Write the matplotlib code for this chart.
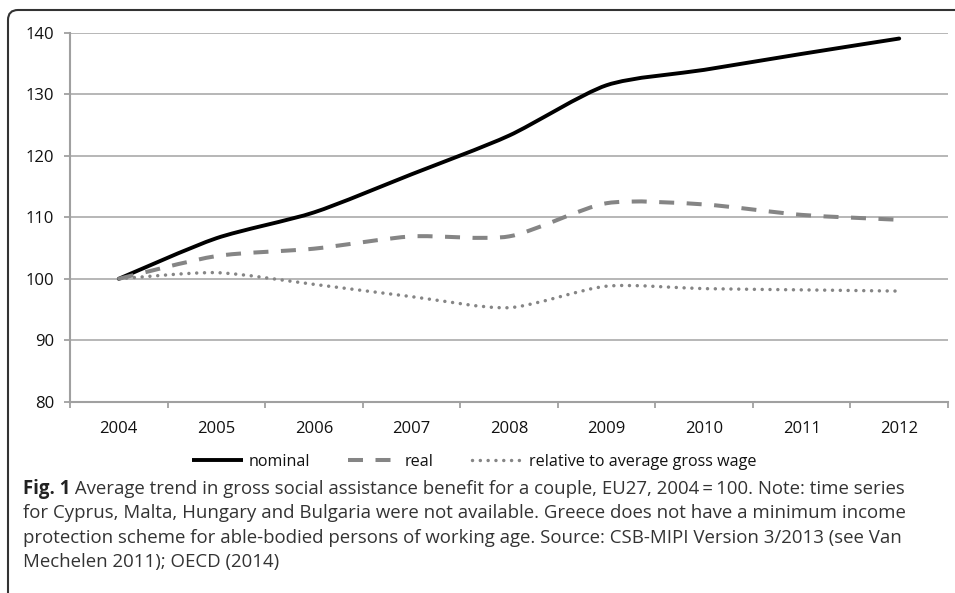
import matplotlib
matplotlib.use("Agg")
import matplotlib.pyplot as plt
from matplotlib.path import Path
from matplotlib.patches import PathPatch
from matplotlib.lines import Line2D

years = ["2004", "2005", "2006", "2007", "2008", "2009", "2010", "2011", "2012"]
nominal = [100.0, 106.6, 110.8, 117.0, 123.3, 131.5, 134.0, 136.6, 139.1]
real = [100.0, 103.7, 104.9, 106.9, 106.9, 112.3, 112.1, 110.4, 109.6]
relative = [100.0, 101.0, 99.1, 97.1, 95.3, 98.8, 98.4, 98.2, 98.0]
series_names = ["nominal", "real", "relative to average gross wage"]
yticks = [80, 90, 100, 110, 120, 130, 140]

caption_bold = "Fig. 1"
caption_lines = [
    " Average trend in gross social assistance benefit for a couple, EU27, 2004\u2009=\u2009100. Note: time series",
    "for Cyprus, Malta, Hungary and Bulgaria were not available. Greece does not have a minimum income",
    "protection scheme for able-bodied persons of working age. Source: CSB-MIPI Version 3/2013 (see Van",
    "Mechelen 2011); OECD (2014)",
]

plt.rcParams['font.family'] = ['Open Sans', 'DejaVu Sans']

W, H = 955, 593
fig = plt.figure(figsize=(W / 100, H / 100), dpi=100)
ax = fig.add_axes([70 / W, (H - 401.7) / H, (948 - 70) / W, (401.7 - 33) / H])

def smooth_path(xs, ys, k=8.0):
    verts = [(xs[0], ys[0])]
    codes = [Path.MOVETO]
    n = len(xs)
    for i in range(n - 1):
        a = i - 1 if i > 0 else i
        d = i + 2 if i + 2 < n else i + 1
        c1 = (xs[i] + (xs[i + 1] - xs[a]) / k, ys[i] + (ys[i + 1] - ys[a]) / k)
        c2 = (xs[i + 1] - (xs[d] - xs[i]) / k, ys[i + 1] - (ys[d] - ys[i]) / k)
        verts += [c1, c2, (xs[i + 1], ys[i + 1])]
        codes += [Path.CURVE4] * 3
    return Path(verts, codes)

x = list(range(len(years)))

lw_nom = 2.8
lw_real = 2.9
lw_rel = 2.5
styles = [
    dict(color="black", lw=lw_nom, ls="-", cap="round"),
    dict(color="#858585", lw=lw_real, ls=(0, (10.8 / lw_real, 9.0 / lw_real)), cap="butt"),
    dict(color="#858585", lw=lw_rel, ls=(0, (0.01, 5.6 / lw_rel)), cap="round"),
]

for vals, st in zip([nominal, real, relative], styles):
    p = PathPatch(smooth_path(x, vals), fill=False, edgecolor=st["color"], lw=st["lw"],
                  linestyle=st["ls"], capstyle=st["cap"], joinstyle="round", zorder=3)
    ax.add_patch(p)

ax.set_xlim(-0.5, len(years) - 0.5)
ax.set_ylim(80, 140)
ax.set_yticks(yticks)
ax.set_xticks(x)
ax.set_xticklabels(years)
ax.set_xticks([i - 0.5 for i in range(len(years) + 1)], minor=True)
grid_c = "#b7b7b7"
axis_c = "#a0a0a0"
for yv in yticks[1:]:
    ax.axhline(yv, color=grid_c, lw=1.4, zorder=1)
for s in ["top", "right"]:
    ax.spines[s].set_visible(False)
for s in ["left", "bottom"]:
    ax.spines[s].set_color(axis_c)
    ax.spines[s].set_linewidth(1.5)
tick_fs = 12
ax.tick_params(axis="y", length=4.5, width=1.3, color=axis_c, pad=7, labelsize=tick_fs, labelcolor="#111111")
ax.tick_params(axis="x", which="major", length=0, pad=14, labelsize=tick_fs, labelcolor="#111111")
ax.tick_params(axis="x", which="minor", length=4.5, width=1.3, color=axis_c)

handles = [Line2D([], [], color=st["color"], lw=st["lw"], linestyle=st["ls"],
                  dash_capstyle=st["cap"], solid_capstyle="butt") for st in styles]
fig.legend(handles, series_names, loc="center", bbox_to_anchor=(474 / W, 1 - 462 / H),
           ncol=3, frameon=False, fontsize=11.6, handlelength=3.2, handletextpad=0.3,
           columnspacing=2.4, labelcolor="#111111")

# frame (left + top with rounded corner)
r = 10
fx = lambda px: px / W
fy = lambda py: 1 - py / H
frame = Path([(fx(8), fy(H + 5)), (fx(8), fy(10 + r)), (fx(8), fy(10)), (fx(8 + r), fy(10)), (fx(W + 5), fy(10))],
             [Path.MOVETO, Path.LINETO, Path.CURVE3, Path.CURVE3, Path.LINETO])
fig.add_artist(PathPatch(frame, fill=False, edgecolor="#333333", lw=1.5, transform=fig.transFigure))

cap_size = 13.4
cap_color = "#333333"
base0 = 494
step = 24.3
t = fig.text(23 / W, 1 - base0 / H, caption_bold, fontsize=cap_size, fontweight="bold",
             color="#222222", va="baseline", ha="left")
fig.canvas.draw()
bb = t.get_window_extent(renderer=fig.canvas.get_renderer())
fig.text(bb.x1 / W, 1 - base0 / H, caption_lines[0], fontsize=cap_size, color=cap_color,
         va="baseline", ha="left")
for i, line in enumerate(caption_lines[1:], start=1):
    fig.text(23 / W, 1 - (base0 + i * step) / H, line, fontsize=cap_size, color=cap_color,
             va="baseline", ha="left")

fig.savefig("out.png", dpi=100)
